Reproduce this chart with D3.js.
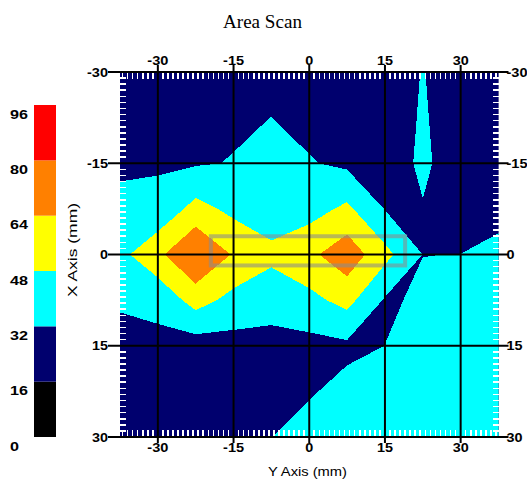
<!DOCTYPE html>
<html><head><meta charset="utf-8">
<script src="https://cdn.jsdelivr.net/npm/d3@7"></script>
<style>body{margin:0;background:#fff}svg{display:block}</style>
</head><body>
<svg id="chart" width="527" height="479"></svg>
<script>
// ---- data ----
const xNodes = [-37.5, -30, -22.5, -15, -7.5, 0, 7.5, 15, 22.5, 30, 37.5];   // Y Axis (mm), horizontal
const yNodes = [-30, -22.5, -15, -7.5, 0, 7.5, 15, 22.5, 30];                // X Axis (mm), vertical
const gridValues = [
  [24, 24, 24, 24, 26, 24, 22, 22, 32.75, 22, 24],
  [25, 25, 26, 29.8, 32.1, 28, 24, 22, 33.9, 22, 24],
  [26, 30.6, 30.6, 32.7, 38, 33, 28.9, 22, 35.4, 22, 24],
  [41, 35.8, 53.6, 44, 43.5, 41.8, 51.3, 31.5, 31, 25, 25],
  [43.5, 60.5, 80.5, 62.6, 50, 60.4, 74, 52.9, 31.9, 32.1, 38.1],
  [34.2, 35.8, 54.7, 42.9, 42.9, 43.6, 53.2, 30.5, 33.6, 37, 40],
  [26, 28.5, 24.3, 26.2, 23, 27.2, 29, 32.05, 38, 40, 40],
  [24, 24, 24, 24, 26, 30.7, 36, 40, 40, 40, 40],
  [24, 24, 24, 24, 31.9, 37.2, 40, 40, 40, 40, 40]
];
const bandThresholds = [16, 32, 48, 64, 80];
const legendValues = [96, 80, 64, 48, 32, 16, 0];
const legendLabels = ["96", "80", "64", "48", "32", "16", "0"];
const bandColors = ["#000000", "#00006e", "#00ffff", "#ffff00", "#ff8000", "#ff0000"];
const tickValues = [-30, -15, 0, 15, 30];
const tickLabels = ["-30", "-15", "0", "15", "30"];
const gateU = [-19.5, 19];
const gateV = [-3, 1.8];
const titleText = "Area Scan";
const xTitle = "Y Axis (mm)";
const yTitle = "X Axis (mm)";

// ---- layout ----
const svg = d3.select("#chart");
const x = d3.scaleLinear().domain([-37.5, 37.5]).range([120, 498.5]);
const y = d3.scaleLinear().domain([-30, 30]).range([72, 437]);
const nx = xNodes.length, ny = yNodes.length;
const gx = d3.scaleLinear().domain([0.5, nx - 0.5]).range([xNodes[0], xNodes[nx - 1]]);
const gy = d3.scaleLinear().domain([0.5, ny - 0.5]).range([yNodes[0], yNodes[ny - 1]]);

const [x0, x1] = x.range(), [y0, y1] = y.range();

svg.append("defs").append("clipPath").attr("id", "plotclip")
  .append("rect").attr("x", x0).attr("y", y0).attr("width", x1 - x0).attr("height", y1 - y0);

const plot = svg.append("g").attr("clip-path", "url(#plotclip)");
plot.append("rect").attr("x", x0).attr("y", y0).attr("width", x1 - x0).attr("height", y1 - y0)
  .attr("fill", bandColors[0]);

const contours = d3.contours().size([nx, ny]).thresholds(bandThresholds)(gridValues.flat());
const proj = d3.geoTransform({ point: function (px, py) { this.stream.point(x(gx(px)), y(gy(py))); } });
const path = d3.geoPath(proj);
plot.selectAll("path.band").data(contours).join("path")
  .attr("class", "band")
  .attr("d", path)
  .attr("fill", (d, i) => bandColors[i + 1])
  .attr("shape-rendering", "crispEdges");

// gate rectangle
plot.append("rect")
  .attr("x", x(gateU[0])).attr("y", y(gateV[0]))
  .attr("width", x(gateU[1]) - x(gateU[0])).attr("height", y(gateV[1]) - y(gateV[0]))
  .attr("fill", "none").attr("stroke", "#8c8c8c").attr("stroke-opacity", 0.6).attr("stroke-width", 4);

// minor ticks (white, inside)
const minorX = d3.range(-37, 38, 1).filter(v => v % 15 !== 0);
const minorY = d3.range(-29, 30, 1).filter(v => v % 15 !== 0);
const mt = svg.append("g").attr("stroke", "#fff").attr("stroke-width", 1.6).attr("shape-rendering", "crispEdges");
minorX.forEach(v => {
  mt.append("line").attr("x1", x(v)).attr("x2", x(v)).attr("y1", y0).attr("y2", y0 + 7);
  mt.append("line").attr("x1", x(v)).attr("x2", x(v)).attr("y1", y1).attr("y2", y1 - 7);
});
minorY.forEach(v => {
  mt.append("line").attr("y1", y(v)).attr("y2", y(v)).attr("x1", x0).attr("x2", x0 + 6);
  mt.append("line").attr("y1", y(v)).attr("y2", y(v)).attr("x1", x1).attr("x2", x1 - 6);
});

// major grid lines
const gl = svg.append("g").attr("stroke", "#000").attr("stroke-width", 2);
tickValues.forEach(v => {
  gl.append("line").attr("x1", x(v)).attr("x2", x(v)).attr("y1", y0 - 7).attr("y2", y1 + 6);
  gl.append("line").attr("y1", y(v)).attr("y2", y(v)).attr("x1", x0 - 12).attr("x2", x1 + 10);
});

// tick labels (wide pixel-like digits)
const widthOf = s => s.replace("-", "").length * 8 + (s.startsWith("-") ? 5 : 0);
const lab = svg.append("g").attr("font-family", "Liberation Sans, Arial, sans-serif")
  .attr("font-weight", "bold").attr("font-size", 12).attr("fill", "#000");
function addLabel(px, py, anchor, s, w) {
  lab.append("text").attr("x", px).attr("y", py).attr("text-anchor", anchor)
    .attr("textLength", w).attr("lengthAdjust", "spacingAndGlyphs").text(s);
}
tickValues.forEach((v, i) => {
  const s = tickLabels[i], w = widthOf(s);
  addLabel(x(v), y0 - 7, "middle", s, w);
  addLabel(x(v), y1 + 15, "middle", s, w);
  addLabel(x0 - 12, y(v) + 4.5, "end", s, w);
  addLabel(x1 + 8, y(v) + 4.5, "start", s, w);
});

// titles
svg.append("text").attr("x", 262.5).attr("y", 28).attr("text-anchor", "middle")
  .attr("font-family", "Liberation Serif, Times New Roman, serif").attr("font-size", 18)
  .attr("textLength", 79).attr("lengthAdjust", "spacingAndGlyphs").text(titleText);
svg.append("text").attr("x", 307.5).attr("y", 476).attr("text-anchor", "middle")
  .attr("font-family", "Liberation Sans, Arial, sans-serif").attr("font-size", 13)
  .attr("textLength", 79).attr("lengthAdjust", "spacingAndGlyphs").text(xTitle);
svg.append("text").attr("transform", "translate(77,250) rotate(-90)").attr("text-anchor", "middle")
  .attr("font-family", "Liberation Sans, Arial, sans-serif").attr("font-size", 13)
  .attr("textLength", 94).attr("lengthAdjust", "spacingAndGlyphs").text(yTitle);

// legend
const ly = d3.scaleLinear().domain([d3.min(legendValues), d3.max(legendValues)]).range([437, 105]);
const lv = legendValues.slice().sort((a, b) => a - b);
const leg = svg.append("g");
lv.slice(0, -1).forEach((v, i) => {
  leg.append("rect").attr("x", 34).attr("width", 22)
    .attr("y", ly(lv[i + 1])).attr("height", ly(v) - ly(lv[i + 1]))
    .attr("fill", bandColors[i]);
});
legendValues.forEach((v, i) => {
  const s = legendLabels[i];
  addLabel(10, ly(v) + 13.5, "start", s, s.length * 9);
});
</script>
</body></html>
